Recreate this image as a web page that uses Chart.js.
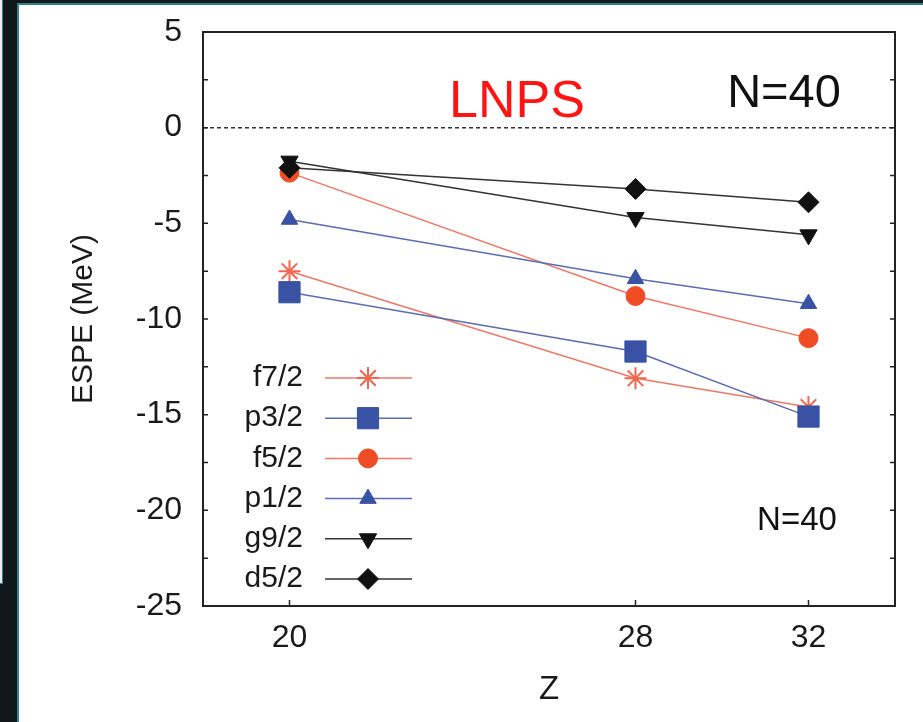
<!DOCTYPE html>
<html lang="en">
<head>
  <meta charset="UTF-8">
  <title>ESPE N=40</title>
  <script src="https://cdn.jsdelivr.net/npm/chart.js"></script>
  <style>
    body {
      margin: 0;
      padding: 0;
      width: 923px;
      height: 722px;
      overflow: hidden;
      background-color: #10181b;
      position: relative;
    }
    #edge {
      position: absolute;
      left: 0;
      top: 0;
      width: 2px;
      height: 583px;
      background: #e8eeee;
      border-right: 1px solid #2f8088;
      border-bottom: 1px solid #2f8088;
    }
    #panel {
      position: absolute;
      left: 17px;
      top: 3px;
      width: 920px;
      height: 730px;
      background: #ffffff;
      border-left: 2px solid #2f8088;
      border-top: 2px solid #2f8088;
    }
    #chart {
      position: absolute;
      left: 0;
      top: 0;
    }
  </style>
</head>
<body>
  <div id="edge"></div>
  <div id="panel"></div>
  <canvas id="chart" width="923" height="722"></canvas>

  <script>
    // Z values and ESPE (MeV)
    const zValues = [20, 28, 32];
    const zTicks = [20, 28, 32];
    const orbitals = ["f7/2", "p3/2", "f5/2", "p1/2", "g9/2", "d5/2"];
    const f72 = [-7.5, -13.1, -14.6];
    const p32 = [-8.6, -11.7, -15.1];
    const f52 = [-2.35, -8.8, -11.0];
    const p12 = [-4.8, -7.9, -9.2];
    const g92 = [-1.75, -4.7, -5.6];
    const d52 = [-2.1, -3.2, -3.9];

    const FONT = "'Liberation Sans', Arial, sans-serif";
    const red = "#ef4c26", redLine = "#f07766";
    const blue = "#3a52a3", blueLine = "#5b6cb5";
    const black = "#111111", blackLine = "#333333";

    function series(label, vals, color, lineColor, style, radius, rotation) {
      return {
        label: label,
        data: zValues.map((z, i) => ({ x: z, y: vals[i] })),
        borderColor: lineColor,
        borderWidth: 1.5,
        backgroundColor: color,
        pointBackgroundColor: color,
        pointBorderColor: color,
        pointBorderWidth: style === "star" ? 2 : 1,
        pointStyle: style,
        pointRadius: radius,
        pointRotation: rotation || 0,
        tension: 0,
        fill: false
      };
    }

    const datasets = [
      series(orbitals[0], f72, "#f2664d", redLine, "star", 11),
      series(orbitals[1], p32, blue, blueLine, "rect", 15),
      series(orbitals[2], f52, red, redLine, "circle", 9.5),
      series(orbitals[3], p12, blue, blueLine, "triangle", 9.5),
      series(orbitals[4], g92, black, blackLine, "triangle", 10, 180),
      series(orbitals[5], d52, black, blackLine, "rectRot", 10.5)
    ];
    datasets.forEach((d, i) => { d.order = -i; });

    const framePlugin = {
      id: "frame",
      beforeDatasetsDraw(chart) {
        const { ctx, chartArea: a, scales: { y } } = chart;
        const y0 = y.getPixelForValue(0);
        ctx.save();
        ctx.strokeStyle = "#333";
        ctx.lineWidth = 1.5;
        ctx.setLineDash([4, 3]);
        ctx.beginPath();
        ctx.moveTo(a.left, y0);
        ctx.lineTo(a.right, y0);
        ctx.stroke();
        ctx.restore();
      },
      afterDatasetsDraw(chart) {
        const { ctx, chartArea: a, scales: { x, y } } = chart;
        ctx.save();
        // box
        ctx.strokeStyle = "#222";
        ctx.lineWidth = 2;
        ctx.strokeRect(a.left, a.top, a.right - a.left, a.bottom - a.top);
        // inward ticks
        ctx.lineWidth = 1.5;
        ctx.beginPath();
        for (let v = -25; v <= 5; v += 2.5) {
          const py = y.getPixelForValue(v);
          ctx.moveTo(a.left, py); ctx.lineTo(a.left + 5, py);
          ctx.moveTo(a.right, py); ctx.lineTo(a.right - 5, py);
        }
        zTicks.forEach(z => {
          const px = x.getPixelForValue(z);
          ctx.moveTo(px, a.bottom); ctx.lineTo(px, a.bottom - 6);
        });
        ctx.stroke();

        // legend, text to the left of the sample
        chart.data.datasets.forEach((d, i) => {
          const ly = 378 + 40.2 * i;
          ctx.fillStyle = "#1a1a1a";
          ctx.font = "30px " + FONT;
          ctx.textAlign = "right";
          ctx.textBaseline = "middle";
          ctx.fillText(d.label, 303, ly);
          ctx.strokeStyle = d.borderColor;
          ctx.lineWidth = 1.5;
          ctx.beginPath();
          ctx.moveTo(325, ly);
          ctx.lineTo(412, ly);
          ctx.stroke();
          ctx.fillStyle = d.pointBackgroundColor;
          ctx.strokeStyle = d.pointBorderColor;
          ctx.lineWidth = d.pointBorderWidth;
          Chart.helpers.drawPoint(ctx, {
            pointStyle: d.pointStyle,
            rotation: d.pointRotation,
            radius: d.pointRadius,
            borderWidth: d.pointBorderWidth
          }, 368, ly);
        });

        // annotations
        ctx.textAlign = "center";
        ctx.textBaseline = "alphabetic";
        ctx.fillStyle = "#ff1414";
        ctx.font = "52px " + FONT;
        ctx.fillText("LNPS", 517, 117);
        ctx.fillStyle = "#111";
        ctx.font = "47px " + FONT;
        ctx.fillText("N=40", 784, 107);
        ctx.font = "33px " + FONT;
        ctx.fillText("N=40", 797, 530);
        ctx.restore();
      }
    };

    new Chart(document.getElementById("chart").getContext("2d"), {
      type: "line",
      data: { datasets: datasets },
      options: {
        responsive: false,
        animation: false,
        devicePixelRatio: 1,
        layout: { padding: { top: 32, right: 28, left: 0, bottom: 0 } },
        plugins: { legend: { display: false }, tooltip: { enabled: false } },
        scales: {
          x: {
            type: "linear",
            min: 18,
            max: 34,
            afterBuildTicks: axis => { axis.ticks = zTicks.map(v => ({ value: v })); },
            afterFit: axis => { axis.height = 116; axis.paddingLeft = 0; axis.paddingRight = 0; },
            grid: { display: false, drawTicks: false },
            border: { display: false },
            ticks: { color: "#1a1a1a", font: { family: FONT, size: 32 }, padding: 13 },
            title: { display: true, text: "Z", color: "#1a1a1a", font: { family: FONT, size: 33 }, padding: { top: 0, bottom: 12 } }
          },
          y: {
            min: -25,
            max: 5,
            afterFit: axis => { axis.width = 203; axis.paddingTop = 0; axis.paddingBottom = 0; },
            grid: { display: false, drawTicks: false },
            border: { display: false },
            ticks: { stepSize: 5, color: "#1a1a1a", font: { family: FONT, size: 32 }, padding: 21 },
            title: { display: true, text: "ESPE (MeV)", color: "#1a1a1a", font: { family: FONT, size: 30 }, padding: { top: 66, bottom: 0 } }
          }
        }
      },
      plugins: [framePlugin]
    });
  </script>
</body>
</html>
